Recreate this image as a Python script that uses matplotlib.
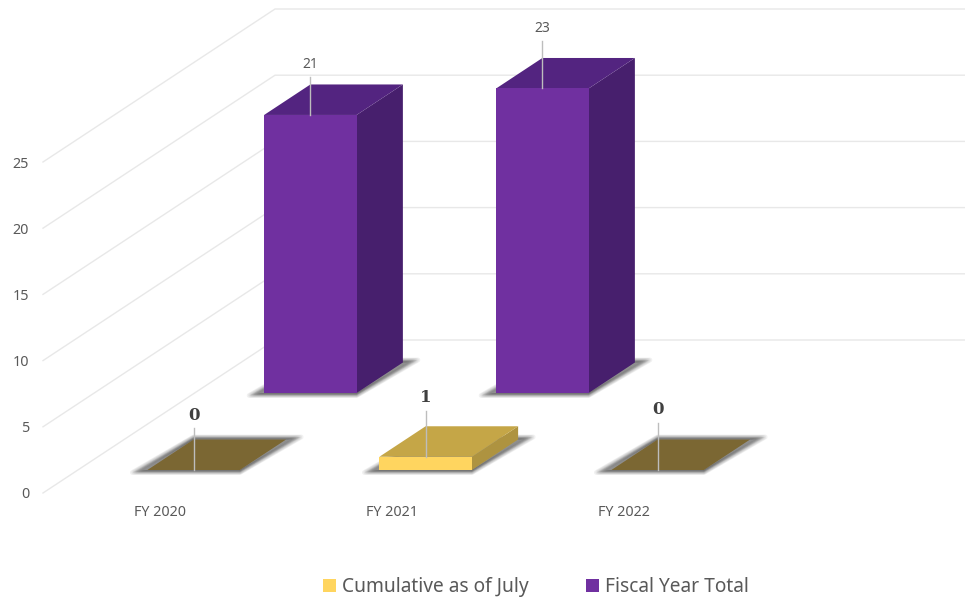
import numpy as np
import matplotlib
matplotlib.use("Agg")
import matplotlib.pyplot as plt
from matplotlib.patches import Polygon, Patch

# ---- data ----
categories = ["FY 2020", "FY 2021", "FY 2022"]
cumulative_july = [0, 1, 0]
fiscal_year_total = [21, 23, None]
y_ticks = [0, 5, 10, 15, 20, 25]
series_names = ["Cumulative as of July", "Fiscal Year Total"]

# ---- layout ----
W, H = 965, 602
PX_X = 232.0       # pixels per category
PX_Y = 13.24       # pixels per value unit
AX_L, AX_R, AX_B, AX_T = 43, 965, 493, 0
X_ZERO_PX = 160    # pixel of first category label
WALL_DX = 1.0      # full depth shift, category units
WALL_DY = 153 / PX_Y  # full depth shift, value units
BAR_W = 92.5 / PX_X
BAR_L = -47.5 / PX_X
BAR_D = 30.5 / 153
DEPTH_FRONT = 23 / 153
DEPTH_REAR = 100 / 153

PURPLE = dict(front="#7030A0", top="#532480", side="#471F6D")
GOLD = dict(front="#FFD55F", top="#C5A647", side="#AE9340", flat="#7B6733")
GRID = "#E8E8E8"
TXT = "#595959"

fig = plt.figure(figsize=(W / 100, H / 100), dpi=100, facecolor="white")
ax = fig.add_axes([AX_L / W, (H - AX_B) / H, (AX_R - AX_L) / W, (AX_B - AX_T) / H])
xmin, xmax = (AX_L - X_ZERO_PX) / PX_X, (AX_R - X_ZERO_PX) / PX_X
ax.set_xlim(xmin, xmax)
ax.set_ylim(0, (AX_B - AX_T) / PX_Y)
ax.set_facecolor("none")
for s in ax.spines.values():
    s.set_visible(False)

FONT = "Noto Sans"
ax.set_xticks(range(len(categories)), categories, fontsize=10.3, color=TXT, family=FONT)
ax.set_yticks(y_ticks, [str(v) for v in y_ticks], fontsize=10.3, color=TXT, family=FONT)
ax.tick_params(axis="x", length=0, pad=8.5)
ax.tick_params(axis="y", length=0, pad=10)

# side and back wall gridlines
for v in y_ticks:
    ax.plot([xmin, xmin + WALL_DX, xmax], [v, v + WALL_DY, v + WALL_DY],
            color=GRID, lw=1.0, solid_joinstyle="miter", zorder=1, clip_on=False)


def pt(x, v, d):
    return (x + WALL_DX * d, v + WALL_DY * d)


def footprint(i, d):
    x0 = i + BAR_L
    x1 = x0 + BAR_W
    return x0, x1, d, d + BAR_D


def shadow(i, d, z):
    x0, x1, d0, d1 = footprint(i, d)
    ext_x, ext_y = 15 / PX_X, 2.5 / PX_Y
    steps = 12
    for k in range(steps):
        t = 1 - k / steps
        a = pt(x0, 0, d0); b = pt(x1, 0, d0); c = pt(x1, 0, d1); e = pt(x0, 0, d1)
        poly = [(a[0] - ext_x * t, a[1] - ext_y * t),
                (b[0], b[1] - ext_y * t),
                (c[0] + ext_x * t, c[1] + ext_y * t),
                (e[0], e[1] + ext_y * t)]
        ax.add_patch(Polygon(poly, closed=True, fc="#666666", ec="#666666", lw=3.5 * t,
                             joinstyle="round", alpha=0.09, zorder=z, clip_on=False))


def bar(i, v, d, col, z):
    x0, x1, d0, d1 = footprint(i, d)
    if v == 0:
        ax.add_patch(Polygon([pt(x0, 0, d0), pt(x1, 0, d0), pt(x1, 0, d1), pt(x0, 0, d1)],
                             closed=True, fc=col["flat"], ec="none", zorder=z, clip_on=False))
        return
    ax.add_patch(Polygon([pt(x1, 0, d0), pt(x1, 0, d1), pt(x1, v, d1), pt(x1, v, d0)],
                         closed=True, fc=col["side"], ec="none", zorder=z, clip_on=False))
    ax.add_patch(Polygon([pt(x0, v, d0), pt(x1, v, d0), pt(x1, v, d1), pt(x0, v, d1)],
                         closed=True, fc=col["top"], ec="none", zorder=z, clip_on=False))
    ax.add_patch(Polygon([pt(x0, 0, d0), pt(x1, 0, d0), pt(x1, v, d0), pt(x0, v, d0)],
                         closed=True, fc=col["front"], ec="none", zorder=z, clip_on=False))


def label(i, v, d, text, line_px, text_px, bold):
    xc = i + BAR_L + BAR_W / 2
    bx, by = pt(xc, v, d)
    ax.plot([bx, bx], [by, by + line_px / PX_Y], color="#BDBDBD", lw=1.0, zorder=8, clip_on=False)
    if bold:
        ax.text(bx, by + text_px / PX_Y, text, ha="center", va="center", fontsize=12,
                color="#404040", fontweight="bold", family="DejaVu Serif", zorder=9)
    else:
        ax.text(bx, by + text_px / PX_Y, text, ha="center", va="center", fontsize=10,
                color=TXT, family=FONT, zorder=9)


# rear series
rear_line = [38, 47, 0]
rear_text = [50, 60, 0]
for i, v in enumerate(fiscal_year_total):
    if v is None:
        continue
    shadow(i, DEPTH_REAR, 2)
    bar(i, v, DEPTH_REAR, PURPLE, 3)
    label(i, v, DEPTH_REAR, str(v), rear_line[i], rear_text[i], False)

# front series
front_line = [42, 46, 47]
front_text = [55, 59, 61]
for i, v in enumerate(cumulative_july):
    shadow(i, DEPTH_FRONT, 4)
    bar(i, v, DEPTH_FRONT, GOLD, 5)
    label(i, v, DEPTH_FRONT, str(v), front_line[i], front_text[i], True)

handles = [Patch(fc=GOLD["front"], ec="none"), Patch(fc=PURPLE["front"], ec="none")]
fig.legend(handles, series_names, loc="center", bbox_to_anchor=(536 / W, (H - 587) / H),
           ncol=2, frameon=False, handlelength=0.66, handleheight=0.66, handletextpad=0.32,
           columnspacing=3.0, labelcolor=TXT, prop={"family": FONT, "size": 13.8})

fig.savefig("out.png", dpi=100)
